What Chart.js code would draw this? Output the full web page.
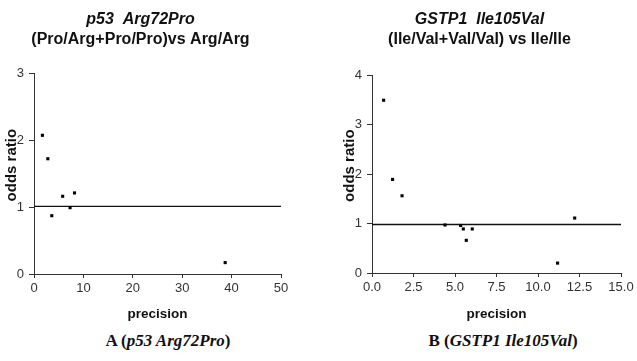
<!DOCTYPE html>
<html>
<head>
<meta charset="utf-8">
<script src="https://cdn.jsdelivr.net/npm/chart.js@4.4.0/dist/chart.umd.min.js"></script>
<style>
  html, body { margin: 0; padding: 0; background: #fff; }
  body { width: 637px; height: 361px; position: relative; overflow: hidden; }
  .panel { position: absolute; top: 0; height: 330px; }
  #panelA { left: 0; width: 338px; }
  #panelB { left: 338px; width: 299px; }
  .caption {
    position: absolute; top: 331px; line-height: 20px;
    font: bold 17px 'Liberation Serif', 'Times New Roman', serif;
    color: #111; white-space: nowrap; transform: translateX(-50%);
  }
</style>
</head>
<body>
<div class="panel" id="panelA"><canvas id="chartA"></canvas></div>
<div class="panel" id="panelB"><canvas id="chartB"></canvas></div>
<div class="caption" style="left:168px">A (<i>p53 Arg72Pro</i>)</div>
<div class="caption" style="left:503px">B (<i>GSTP1 Ile105Val</i>)</div>
<script>
// Panel A: p53 Arg72Pro
const precisionA = [1.7, 2.8, 3.6, 5.8, 7.3, 8.2, 38.7];
const oddsA = [2.07, 1.72, 0.87, 1.16, 0.99, 1.21, 0.17];
const refXA = [0, 50];
const refYA = [1.01, 1.01];
const xTicksA = [0, 10, 20, 30, 40, 50];
const yTicksA = [0, 1, 2, 3];

// Panel B: GSTP1 Ile105Val
const precisionB = [0.7, 1.24, 1.81, 4.4, 5.34, 5.5, 6.04, 5.68, 11.18, 12.21];
const oddsB = [3.49, 1.89, 1.56, 0.97, 0.96, 0.89, 0.89, 0.66, 0.2, 1.11];
const refXB = [0, 15];
const refYB = [0.98, 0.98];
const xTicksB = [0, 2.5, 5, 7.5, 10, 12.5, 15];
const yTicksB = [0, 1, 2, 3, 4];

(function() {
  const ink = '#111';
  const axisInk = '#333';
  const sans = "'Liberation Sans', Arial, sans-serif";

  function toPoints(xs, ys) {
    return xs.map((x, i) => ({ x: x, y: ys[i] }));
  }

  function renderFunnel(canvasId, cfg) {
    const canvas = document.getElementById(canvasId);
    const xTicks = cfg.xTicks;
    const yTicks = cfg.yTicks;

    return new Chart(canvas, {
      type: 'scatter',
      data: {
        datasets: [
          {
            data: toPoints(cfg.xs, cfg.ys),
            pointStyle: 'rect',
            pointRadius: 2.2,
            backgroundColor: '#000',
            borderWidth: 0
          },
          {
            data: toPoints(cfg.refX, cfg.refY),
            showLine: true,
            borderColor: ink,
            borderWidth: 1.3,
            pointRadius: 0
          }
        ]
      },
      options: {
        responsive: true,
        maintainAspectRatio: false,
        animation: false,
        layout: { padding: { left: 0, top: 0, right: cfg.padRight, bottom: 6 } },
        plugins: {
          legend: { display: false },
          tooltip: { enabled: false },
          title: {
            display: true,
            text: cfg.title,
            color: ink,
            font: { family: sans, size: 16, weight: 'bold', style: 'italic' },
            padding: { top: 10, bottom: 0 }
          },
          subtitle: {
            display: true,
            text: cfg.subtitle,
            color: ink,
            font: { family: sans, size: 16, weight: 'bold' },
            padding: { top: 0.5, bottom: cfg.subGap }
          }
        },
        scales: {
          x: {
            type: 'linear',
            min: xTicks[0],
            max: xTicks[xTicks.length - 1],
            afterBuildTicks: s => { s.ticks = xTicks.map(v => ({ value: v })); },
            afterFit: s => { s.height = cfg.xAxisH; },
            ticks: {
              color: axisInk,
              font: { family: sans, size: 13 },
              padding: 3,
              maxRotation: 0,
              callback: v => cfg.xFmt(v)
            },
            grid: { drawOnChartArea: false, tickLength: 4, tickColor: axisInk },
            border: { color: axisInk, width: 1 },
            title: {
              display: true,
              text: 'precision',
              color: ink,
              font: { family: sans, size: 13.5, weight: 'bold' },
              padding: { top: 0, bottom: 2 }
            }
          },
          y: {
            min: yTicks[0],
            max: yTicks[yTicks.length - 1],
            afterBuildTicks: s => { s.ticks = yTicks.map(v => ({ value: v })); },
            afterFit: s => { s.width = 34; },
            ticks: {
              color: axisInk,
              font: { family: sans, size: 13 },
              padding: 5
            },
            grid: { drawOnChartArea: false, tickLength: 5, tickColor: axisInk },
            border: { color: axisInk, width: 1 },
            title: {
              display: true,
              text: '    odds ratio',
              color: ink,
              font: { family: sans, size: 15, weight: 'bold' },
              padding: { top: 3, bottom: 0 }
            }
          }
        }
      }
    });
  }

  renderFunnel('chartA', {
    xs: precisionA, ys: oddsA, refX: refXA, refY: refYA,
    xTicks: xTicksA, yTicks: yTicksA,
    xFmt: v => String(v),
    title: 'p53  Arg72Pro',
    subtitle: '(Pro/Arg+Pro/Pro)vs Arg/Arg',
    subGap: 24.1, xAxisH: 50, padRight: 57
  });

  renderFunnel('chartB', {
    xs: precisionB, ys: oddsB, refX: refXB, refY: refYB,
    xTicks: xTicksB, yTicks: yTicksB,
    xFmt: v => v.toFixed(1),
    title: 'GSTP1  Ile105Val',
    subtitle: '(Ile/Val+Val/Val) vs Ile/Ile',
    subGap: 26.1, xAxisH: 51, padRight: 16
  });
})();
</script>
</body>
</html>
